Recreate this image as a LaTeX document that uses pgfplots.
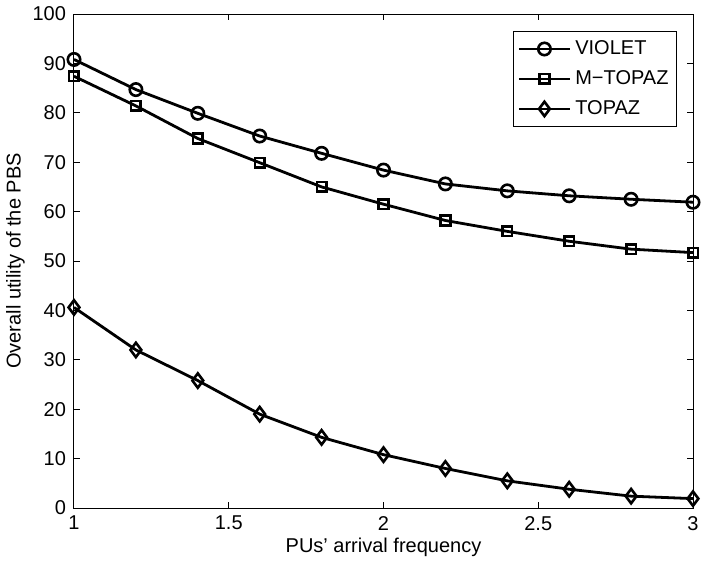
\documentclass[border=0pt]{standalone}
\usepackage{pgfplots}
\pgfplotsset{compat=1.18}
\usepackage{fontspec}
\setmainfont{Liberation Sans}
\begin{document}
\begin{tikzpicture}
\begin{axis}[
  scale only axis,
  width=309.5pt, height=247pt,
  xmin=1, xmax=3, ymin=0, ymax=100,
  xtick={1,1.5,2,2.5,3},
  xticklabels={1,1.5,2,2.5,3},
  ytick={0,10,...,100},
  tick align=inside,
  major tick length=3pt,
  axis line style={line width=0.5pt},
  every tick/.style={black, line width=0.5pt},
  /pgf/number format/assume math mode=true,
  tick label style={font=\fontsize{10}{11}\selectfont},
  label style={font=\fontsize{10}{11}\selectfont},
  xticklabel style={yshift=-0.5pt},
  yticklabel style={xshift=-0.5pt},
  xlabel={PUs’ arrival frequency},
  ylabel={Overall utility of the PBS},
  xlabel style={yshift=3pt},
  ylabel style={yshift=-3pt},
  legend style={at={(1,1)}, anchor=north east, xshift=-8pt, yshift=-8.5pt,
    draw=black, line width=0.5pt, font=\fontsize{10}{11}\selectfont,
    inner xsep=2pt, inner ysep=2.5pt, row sep=2.5pt, cells={anchor=west}},
  legend image code/.code={
    \draw[mark repeat=2, mark phase=2] plot coordinates {(0pt,0pt) (12.75pt,0pt) (25.5pt,0pt)};
  },
]
\addplot[black, line width=1.4pt, mark=o, mark size=3.1pt, mark options={solid, line width=1.3pt}] coordinates {
(1,90.8) (1.2,84.7) (1.4,79.9) (1.6,75.3) (1.8,71.8) (2.0,68.4) (2.2,65.6) (2.4,64.2) (2.6,63.2) (2.8,62.5) (3.0,61.9)};
\addlegendentry{VIOLET}
\addplot[black, line width=1.4pt, mark=square, mark size=2.4pt, mark options={solid, line width=1.3pt}] coordinates {
(1,87.4) (1.2,81.4) (1.4,74.8) (1.6,69.9) (1.8,65.0) (2.0,61.5) (2.2,58.2) (2.4,56.0) (2.6,54.0) (2.8,52.4) (3.0,51.7)};
\addlegendentry{M\textminus TOPAZ}
\addplot[black, line width=1.4pt, mark=diamond, mark size=3.6pt, mark options={solid, line width=1.3pt}] coordinates {
(1,40.6) (1.2,32.0) (1.4,25.8) (1.6,19.0) (1.8,14.3) (2.0,10.8) (2.2,8.0) (2.4,5.5) (2.6,3.8) (2.8,2.4) (3.0,1.9)};
\addlegendentry{TOPAZ}
\end{axis}
\pgfresetboundingbox
\path (current axis.south west) ++(-37pt,-28pt) coordinate (bl);
\path (current axis.north east) ++(6.5pt,7pt) coordinate (tr);
\path (bl) rectangle (tr);
\end{tikzpicture}
\end{document}
